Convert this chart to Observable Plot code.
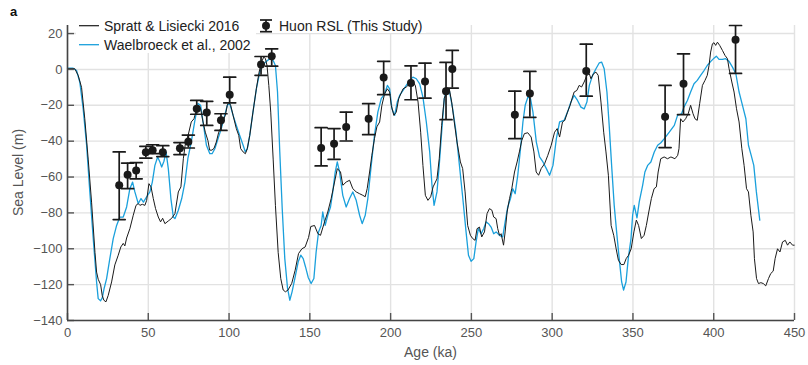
<!DOCTYPE html>
<html><head><meta charset="utf-8">
<script src="https://cdn.jsdelivr.net/npm/d3@7"></script>
<script src="https://cdn.jsdelivr.net/npm/@observablehq/plot@0.6"></script>
<style>
body{margin:0;background:#fff;}
#chart{width:808px;height:365px;}
</style></head><body><div id="chart"></div>
<script>
// Spratt & Lisiecki 2016 (age ka, sea level m)
const sprattAge = [0,4.5,6.6,8.7,10.7,12.8,14.9,17,18,19,20.5,21.5,22.5,23.8,25.2,27.3,29.3,31.4,33,34.5,35.5,36.6,38.6,40.7,42.4,43.8,44.8,46.3,47.9,49,50.4,51.7,53.1,54.5,56.2,57.6,58.9,60.3,62.4,64.5,66.5,68.6,70.2,71.7,73.1,74.6,76.6,78.3,79.7,81.2,82.4,83.9,85.3,86.9,88,89.4,90.7,92.1,93.6,95.2,96.3,97.7,98.9,99.8,101,102.5,104.5,106,107.2,108.7,110.1,111.3,112.8,114.8,116.9,118.6,120,121.5,122.5,123.5,124.6,125.8,127.3,128.7,130.4,132,133.5,134.9,136.5,138.8,140.9,143,145.1,147.1,149.2,150.6,152.9,155,156.6,159.1,161.1,163.2,165.3,167,169,170.4,172.5,174.6,176.6,178.7,180.8,182.8,184.3,185.5,187,188.4,190,191.5,193.2,194.6,196.3,198,199.4,200.4,202,203.5,205,206.3,207.7,209.7,211.8,213.8,215.3,217,218.6,220,221.5,223.1,224.8,226.3,228.7,230.1,231.6,233.2,234.9,236.3,237.8,239.4,241.1,243.2,244.6,246.1,247.7,249.4,250.8,252.3,253.5,255,256.4,258.1,259.7,261.2,262.7,263.8,265.3,266.3,267.4,268.4,269.9,270.9,272.1,273.6,275,276.7,278.3,279.7,281.2,282.8,284.9,287,288.7,290.1,291.6,293.2,295.3,297.3,299.4,301.5,303.1,304.6,306.4,307.8,309.5,311.1,312.6,313.6,315.3,316.7,318.2,319.8,321.5,323,324,325.6,327.1,328.5,330.2,331.9,333.3,334.8,336.5,338.1,339.6,341,342.7,344.4,345.8,347.3,348.9,350.6,352.1,353.5,355.2,356.9,358.3,359.8,361.4,363.1,364.5,365.6,367.2,369.3,371.4,373.5,376,377.7,378.5,379.5,380.9,382.6,384.2,385.7,387.2,388.4,389.8,391.3,393,394.6,396,397.1,398.1,399.2,400.2,401.2,402.3,403.7,405.4,407,408.5,409.5,411.2,412.6,414.1,415.7,417.4,418.8,420.3,421.5,423,424.4,425.2,426.5,427.7,429.2,430.7,432.2,433.9,435.3,436.8,438,439.5,441,442.6,444.3,445.7,447.1,448.8,449.8];
const sprattSL = [0.4,0.4,-3.3,-10,-27.5,-50,-74,-102,-113,-117,-120,-126,-128.7,-129.6,-126,-118.5,-109,-103.6,-99,-97,-98.4,-94,-88.8,-81.3,-75.8,-74.8,-75.8,-75.2,-75.8,-73,-63.7,-65.5,-72,-77.6,-82.3,-85,-83,-86,-84.5,-83,-80.4,-68.3,-65.5,-49.8,-40.5,-37,-29.3,-27.5,-22.8,-20,-22,-29.3,-35,-39.6,-45,-45,-44,-40.5,-35,-32,-28.4,-25.6,-20,-18.2,-20,-25.6,-33,-36.8,-44.2,-46,-47,-44.2,-36.8,-23.8,-10.8,-1.5,4,6.9,6,2.2,-8.9,-23.8,-50,-75.8,-102,-116.6,-123,-124,-123,-119.3,-112,-102.7,-100,-99,-93.7,-87.6,-87,-91.6,-92.5,-85,-79.5,-72,-62.8,-55.3,-57.2,-64.6,-62.8,-61.8,-66.5,-68.3,-69.3,-70.2,-71,-66.5,-57.2,-47.9,-38.6,-32,-29.3,-20,-13.6,-10.8,-12.6,-20,-25.6,-23.8,-16.3,-13.6,-10.8,-9.8,-8,-7,-8.9,-18.2,-35,-53.5,-70.2,-73,-71,-65.5,-61,-49.8,-31.2,-16.3,-11.7,-10.8,-18.2,-29.3,-40.5,-51.6,-55.3,-68.3,-87,-92.5,-94.3,-95.3,-88.8,-87.9,-93.4,-90.6,-80.4,-77.6,-78.5,-82.3,-83.2,-88.8,-92.5,-91.6,-98,-90.6,-79.5,-72,-66.5,-57.2,-51.6,-46,-39.6,-35.8,-35.3,-37.7,-46,-57.2,-59,-55.3,-52.6,-47.9,-42.3,-35,-33,-37.7,-29.3,-28.4,-23.8,-20,-15.4,-12.6,-11.7,-8.9,-9.8,-7,-3.3,-2.4,-5.2,-2.4,-1.5,-3.3,-18.2,-35,-46,-59,-87,-92.5,-100,-106.4,-108.8,-108.8,-105.5,-103.6,-100,-90.6,-84,-87,-94.3,-92.5,-87,-79.5,-72,-66.5,-65.5,-57.2,-49.8,-48.8,-49.8,-48.8,-49.8,-47.9,-44.2,-27.5,-29.3,-27.5,-24.7,-20,-24.7,-27.5,-28.4,-19.1,-8.9,-6.1,-3.3,2.2,9.7,14.3,14.9,13.4,15.2,13.4,10.6,7.8,6,0.4,-7,-12.6,-21.9,-29.3,-44.2,-53.5,-66.5,-68.3,-81.3,-90.6,-105.5,-116.6,-119.4,-118.9,-119.4,-120.7,-116.6,-113.8,-112.5,-105.5,-100,-101.8,-96.2,-95.3,-98,-96.2,-98,-98];

// Waelbroeck et al., 2002
const waelAge = [0,3.5,5.6,7.6,9.7,11.8,13.8,15.9,18,19,20.5,21.5,22.7,24.2,26.2,28.3,30.4,32.4,34.5,36.6,38.6,40.3,41.7,43.8,45.5,47,49,51,52.5,54.1,55.8,57.2,58.3,59.7,61,62.4,64,65.5,66.5,68.6,70.7,72.7,74.5,76.6,78.7,80.8,82.4,83.9,86,88.1,89.5,91.2,93.2,95.2,97.3,98.9,100.4,102.5,104.5,106.6,108.7,110.1,111.3,112.8,114.8,116.9,119,121,123.1,125.2,127.3,128.7,130,131.4,132.9,134.5,136.2,137.6,139,140.7,142.8,144.4,145.9,147.3,149,150.8,152.5,153.9,155.4,157,158,159.5,161.1,162.8,164.2,165.7,167,168.4,170.4,172.5,174.6,176.6,178.7,180.8,182.4,184.3,185.9,188,190,192.1,194.2,196.3,198,199.4,200.8,202.5,204.1,205.6,207.7,209.7,211.8,213.8,215.9,218,220,222.1,224.2,225.6,226.9,228.7,230.1,231.6,233.2,234.9,236.3,238.4,240.5,242.6,244.7,246.7,248.2,249.8,251.5,252.9,254.3,256,257.6,259.1,260.6,262.2,263.8,265.3,267.4,269.4,270.9,272.5,274.2,275.6,277.1,278.7,280.4,281.9,283.3,285,286.6,288.1,290.2,292.2,294.3,296.4,298.4,300.5,302.6,304.6,307.4,309.5,311.6,313.6,315.7,317.8,319.8,321.5,323,325,327.1,329.2,330.6,332.2,333.9,335.3,336.8,338.4,340.1,341.5,343,344.2,345.7,347.1,348.8,349.8,350.8,352.5,353.9,356,357.4,359.1,361.1,363.2,365.3,367.3,369.4,372.5,375.6,377.6,380.1,381.6,383.7,385.7,387.8,389.8,391.9,394,396,398.2,400.2,401.6,403.3,405.4,407.4,409.5,411.6,413.7,415.7,417.8,419.9,421.5,423.2,424.8,426.4,428.5];
const waelSL = [0.7,0.7,-0.6,-7,-22,-42,-68,-94,-118.5,-127.8,-129,-127.4,-122,-116.6,-105.5,-94.3,-87,-82.3,-82.3,-76.7,-66.5,-62.8,-68.3,-74.8,-72,-74,-71,-68.3,-62.8,-53.5,-48.8,-51.6,-54.4,-51.2,-46,-55.3,-72,-82.3,-83.2,-78.5,-72,-62.8,-49.8,-40.5,-29.3,-19,-20,-29.3,-42.3,-47,-47,-44.2,-38.6,-33,-25.6,-20,-19,-25.6,-31.2,-36.8,-42.3,-46,-44.2,-36.8,-23.8,-10.8,-1.5,2.6,4.5,6,5,2.2,-12.6,-46,-77.6,-105.5,-122,-128.7,-124,-116.6,-107.3,-103.6,-105.5,-110,-116,-119.4,-116.6,-101.8,-90.6,-87,-79.5,-87,-81.3,-76.7,-68.3,-57.2,-51.6,-57.2,-70.2,-76.7,-72,-68.3,-73,-81.3,-86,-81.3,-72,-53.5,-36.8,-23.8,-16.3,-13.6,-8.9,-10.8,-21.9,-25.6,-18.2,-14.5,-11.7,-8.9,-6.1,-4.3,-5.2,-8,-15.4,-29.3,-46,-64.6,-75.8,-68.3,-53.5,-35,-16.3,-10.8,-11.7,-21.9,-35,-53.5,-72,-90.6,-103.6,-107,-105.5,-96.2,-88.8,-91.6,-88.8,-85,-86,-87.9,-91.6,-90.6,-92.5,-93.4,-85,-76.7,-72,-66.5,-69.3,-59,-44.2,-29.3,-20,-15.4,-16.3,-23.8,-40.5,-48.8,-51.6,-55.3,-59,-53.5,-38.6,-29.3,-28.4,-23.8,-18.2,-14.5,-17.3,-21,-22,-18.2,-8.9,-3.3,0.4,3.7,4.1,0.4,-12.6,-31.2,-53.5,-75.8,-92.5,-105.5,-118.5,-123,-118.5,-105.5,-94.3,-81.3,-75.8,-82.8,-73.9,-64.6,-57.2,-53.5,-51.6,-46,-42.3,-40.9,-38.6,-35,-31.2,-25.6,-24.7,-21,-17.3,-12.6,-8,-6.1,-3.3,-0.6,2.2,4.5,6.3,7.4,5.6,5.6,6,4.5,1.3,-2.4,-12.6,-20,-27.5,-42.3,-47.9,-53.5,-68.3,-84];

// Huon RSL (This Study): age, RSL, upper and lower error bounds
const huonAge = [32,37.2,42.5,48.5,52.7,59,69.6,74.8,80,86.2,95,100.4,119.8,126.4,157,165,172.5,186.4,195.7,212.6,221.3,234.3,238.2,276.9,286.2,321.1,369.9,381.3,413.5];
const huonRSL = [-64.6,-58.7,-56.4,-46.2,-45,-46.2,-44,-40.3,-21.9,-24,-28.4,-14.1,2.8,7.4,-43.8,-41.4,-32.1,-27.5,-4.5,-7.6,-6.7,-12.1,0.2,-25.2,-13.4,-0.9,-26.4,-8,16.5];
const huonHi = [-46,-52.2,-52,-42.9,-42,-42.5,-40.8,-36.6,-17.3,-17.8,-24.7,-4.3,7.2,11.5,-32.5,-33,-23.8,-19.1,4.5,2,3.5,3.9,10.6,-12.1,-1.1,14.1,-8.9,8.7,24.5];
const huonLo = [-83.7,-66.5,-61,-49.4,-47,-48.6,-47.5,-43.8,-25,-31.2,-34,-18.6,-3.3,1.8,-53.8,-50.1,-39.9,-36.4,-14.1,-16.9,-16,-28,-10.4,-38.6,-26.7,-14.9,-43.6,-25.2,-2.2];

const xTicks = [0,50,100,150,200,250,300,350,400,450];
const yTicks = [-140,-120,-100,-80,-60,-40,-20,0,20];

const spratt = sprattAge.map((a,i)=>({age:a, sl:sprattSL[i]}));
const wael = waelAge.map((a,i)=>({age:a, sl:waelSL[i]}));
const huon = huonAge.map((a,i)=>({age:a, rsl:huonRSL[i], hi:huonHi[i], lo:huonLo[i]}));

const font = "'Liberation Sans', Arial, Helvetica, sans-serif";
const BLUE = "#1aa0dc", BLACK = "#1a1a1a", GRID = "#e2e2e2", AX = "#444";
const capShape = {draw(ctx, l){ ctx.moveTo(-l/2, 0); ctx.lineTo(l/2, 0); }};

const plot = Plot.plot({
  width: 808, height: 365,
  marginLeft: 67, marginRight: 14, marginTop: 25, marginBottom: 45,
  style: {fontFamily: font, fontSize: "13px", background: "#fff", overflow: "visible"},
  x: {domain: [0, 450], label: null},
  y: {domain: [-140, 24.5], label: null},
  marks: [
    Plot.gridX(xTicks, {stroke: GRID, strokeOpacity: 1, strokeWidth: 1.4}),
    Plot.gridY(yTicks, {stroke: GRID, strokeOpacity: 1, strokeWidth: 1.4}),
    Plot.line(wael, {x: "age", y: "sl", stroke: BLUE, strokeWidth: 1.3}),
    Plot.line(spratt, {x: "age", y: "sl", stroke: BLACK, strokeWidth: 1}),
    Plot.ruleX(huon, {x: "age", y1: "lo", y2: "hi", stroke: BLACK, strokeWidth: 1.7}),
    Plot.vector(huon, {x: "age", y: "hi", length: 12, rotate: 0, anchor: "start", shape: capShape, stroke: BLACK, strokeWidth: 1.7}),
    Plot.vector(huon, {x: "age", y: "lo", length: 12, rotate: 0, anchor: "start", shape: capShape, stroke: BLACK, strokeWidth: 1.7}),
    Plot.dot(huon, {x: "age", y: "rsl", r: 4, fill: BLACK, stroke: null}),
    Plot.axisX(xTicks, {tickSize: -7, tickPadding: 14.6, color: "#555", strokeWidth: 1.4, label: null}),
    Plot.axisY(yTicks, {tickSize: -7, tickPadding: 12, color: "#555", strokeWidth: 1.4, label: null}),
    Plot.ruleX([0], {stroke: AX, strokeWidth: 1.6}),
    Plot.ruleY([-140], {stroke: AX, strokeWidth: 1.6})
  ]
});

const svg = d3.select(plot);
const g = svg.append("g").attr("font-family", font).attr("text-anchor", "start");
// panel label
g.append("text").attr("x", 10).attr("y", 16).attr("font-size", 13).attr("font-weight", "bold").attr("fill", "#111").text("a");
// axis titles
g.append("text").attr("x", 430.5).attr("y", 356.5).attr("text-anchor", "middle").attr("font-size", 14).attr("fill", "#555").text("Age (ka)");
g.append("text").attr("transform", "translate(23,172.5) rotate(-90)").attr("text-anchor", "middle").attr("font-size", 14).attr("fill", "#555").text("Sea Level (m)");
// legend
g.append("rect").attr("x", 76).attr("y", 14).attr("width", 180).attr("height", 39).attr("fill", "#fff");
g.append("rect").attr("x", 256).attr("y", 14).attr("width", 170).attr("height", 19).attr("fill", "#fff");
g.append("line").attr("x1", 79).attr("x2", 99).attr("y1", 25.7).attr("y2", 25.7).attr("stroke", BLACK).attr("stroke-width", 1.2);
g.append("text").attr("x", 104).attr("y", 30.8).attr("font-size", 14).attr("fill", "#222").text("Spratt & Lisiecki 2016");
g.append("line").attr("x1", 79).attr("x2", 99).attr("y1", 44.7).attr("y2", 44.7).attr("stroke", BLUE).attr("stroke-width", 1.3);
g.append("text").attr("x", 104).attr("y", 49.8).attr("font-size", 14).attr("fill", "#222").text("Waelbroeck et al., 2002");
g.append("line").attr("x1", 266).attr("x2", 266).attr("y1", 20).attr("y2", 31.7).attr("stroke", BLACK).attr("stroke-width", 1.7);
g.append("line").attr("x1", 260).attr("x2", 272).attr("y1", 20).attr("y2", 20).attr("stroke", BLACK).attr("stroke-width", 1.7);
g.append("line").attr("x1", 260).attr("x2", 272).attr("y1", 31.7).attr("y2", 31.7).attr("stroke", BLACK).attr("stroke-width", 1.7);
g.append("circle").attr("cx", 266).attr("cy", 25.8).attr("r", 4).attr("fill", BLACK);
g.append("text").attr("x", 279).attr("y", 30.8).attr("font-size", 14).attr("fill", "#222").text("Huon RSL (This Study)");

document.getElementById("chart").appendChild(plot);
</script></body></html>
